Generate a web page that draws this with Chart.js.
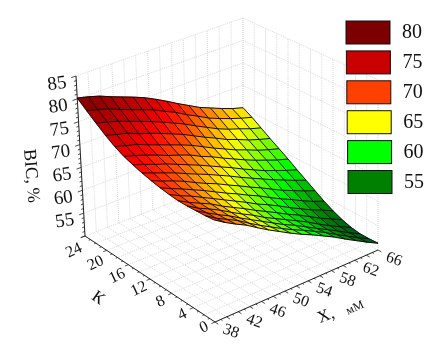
<!DOCTYPE html>
<html><head><meta charset="utf-8">
<style>html,body{margin:0;padding:0;background:#fff}canvas{display:block}</style>
<script src="https://cdn.jsdelivr.net/npm/chart.js@4"></script>
</head><body><canvas id="c" width="431" height="363"></canvas>
<script>
const xValues=[38,39.87,41.73,43.6,45.47,47.33,49.2,51.07,52.93,54.8,56.67,58.53,60.4,62.27,64.13,66];
const kValues=[24,22.4,20.8,19.2,17.6,16,14.4,12.8,11.2,9.6,8,6.4,4.8,3.2,1.6,0];
const zRows=[
[80.2,79.6,78.9,77.9,77,76.1,75.1,73.9,72.6,71.2,69.9,68.6,67.6,66.6,65.7,65],
[78.5,77.9,77.2,76.2,75.3,74.4,73.5,72.3,71.2,69.8,68.6,67.3,66.3,65.4,64.6,63.9],
[76.9,76.3,75.6,74.7,73.8,72.9,71.9,70.8,69.7,68.4,67.2,66,65,64.2,63.3,62.6],
[75.4,74.7,74.1,73.1,72.3,71.4,70.4,69.4,68.2,67,65.9,64.7,63.8,62.8,62,61.3],
[74.1,73.4,72.8,71.8,70.9,70,69.1,68.1,66.9,65.7,64.6,63.5,62.6,61.6,60.8,60.1],
[73.1,72.4,71.6,70.7,69.7,68.9,68,66.8,65.8,64.6,63.5,62.4,61.4,60.5,59.6,58.9],
[72.4,71.6,70.7,69.9,68.9,67.9,66.9,65.8,64.7,63.6,62.4,61.3,60.2,59.3,58.4,57.6],
[71.8,70.9,70,69.1,68,67,66,64.9,63.8,62.6,61.5,60.4,59.3,58.3,57.3,56.4],
[71.3,70.3,69.4,68.4,67.2,66.1,65.1,63.9,62.8,61.6,60.5,59.3,58.1,57.1,56.1,55.2],
[70.9,69.8,68.8,67.7,66.6,65.4,64.2,63.1,61.9,60.8,59.5,58.3,57.2,56,54.9,54],
[70.6,69.4,68.4,67.2,66,64.8,63.6,62.4,61.1,60,58.8,57.5,56.3,55.1,54.1,53],
[70.4,69.1,68,66.9,65.5,64.3,63.1,61.8,60.6,59.4,58.1,57,55.7,54.4,53.3,52.2],
[70.4,69,67.9,66.7,65.3,64,62.8,61.4,60.2,59,57.8,56.6,55.2,53.9,52.7,51.6],
[70.5,69.1,67.8,66.6,65.2,63.9,62.6,61.3,60,58.9,57.6,56.3,55.1,53.8,52.5,51.3],
[70.6,69.1,67.9,66.7,65.2,63.8,62.5,61.2,60,58.9,57.7,56.5,55.1,53.8,52.5,51.3],
[70.8,69.3,68,66.8,65.3,63.9,62.6,61.3,60.1,59,57.8,56.6,55.2,53.9,52.6,51.4]
];
const xTicks=[38,42,46,50,54,58,62,66];
const kTicks=[24,20,16,12,8,4,0];
const zTicks=[85,80,75,70,65,60,55];
const legendLevels=[80,75,70,65,60,55];
const legendColors=['#7c0000','#c80000','#ff4000','#ffff00','#00ff00','#008000'];

/* box geometry: screen position of the eight box corners */
const XMIN=38,XMAX=66,KMIN=0,KMAX=24,ZMIN=50,ZMAX=85;
const floorC={a:[215,322],b:[378,250],c:[85,236],d:[243,175]};
const topC={a:[213,150],b:[378,80],c:[76,76],d:[243,18]};
function project(X,K,Z){
  const u=(X-XMIN)/(XMAX-XMIN),v=(K-KMIN)/(KMAX-KMIN),t=(Z-ZMIN)/(ZMAX-ZMIN);
  const bl=(o,i)=>(1-u)*(1-v)*o.a[i]+u*(1-v)*o.b[i]+(1-u)*v*o.c[i]+u*v*o.d[i];
  return {x:bl(floorC,0)*(1-t)+bl(topC,0)*t,y:bl(floorC,1)*(1-t)+bl(topC,1)*t};
}
/* colour ramp */
const ramp=[[50,[0,64,48]],[54,[0,128,0]],[58.5,[0,255,0]],[64,[255,255,0]],[69.5,[255,64,0]],[72,[255,0,0]],[75,[200,0,0]],[80,[124,0,0]],[85,[90,0,0]]];
function colorOf(z){
  for(let i=0;i<ramp.length-1;i++){
    if(z<=ramp[i+1][0]){
      const f=Math.max(0,(z-ramp[i][0])/(ramp[i+1][0]-ramp[i][0]));
      const c=ramp[i][1].map((a,k)=>Math.round(a+(ramp[i+1][1][k]-a)*f));
      return `rgb(${c[0]},${c[1]},${c[2]})`;
    }
  }
  return 'rgb(90,0,0)';
}
const sets=[];
function add(points,opts){sets.push(Object.assign({type:'scatter',data:points,showLine:true,pointRadius:0,fill:false,borderWidth:1,tension:0},opts));}
const GRID='#d8d8d8',DASH=[1,1];
function gridLine(a,b){add([a,b],{borderColor:GRID,borderWidth:1,borderDash:DASH});}
/* walls and floor */
const wallX=[];for(let x=XMIN;x<=XMAX;x+=2)wallX.push(x);
const wallK=[];for(let k=KMIN;k<=KMAX;k+=2)wallK.push(k);
wallX.forEach(x=>{gridLine(project(x,KMAX,ZMIN),project(x,KMAX,ZMAX));gridLine(project(x,KMIN,ZMIN),project(x,KMAX,ZMIN));});
wallK.forEach(k=>{gridLine(project(XMAX,k,ZMIN),project(XMAX,k,ZMAX));gridLine(project(XMIN,k,ZMIN),project(XMAX,k,ZMIN));});
zTicks.forEach(z=>{gridLine(project(XMIN,KMAX,z),project(XMAX,KMAX,z));gridLine(project(XMAX,KMAX,z),project(XMAX,KMIN,z));});
/* axes */
const AXIS='#222';
add([project(XMIN,KMAX,ZMIN),project(XMIN,KMAX,ZMAX)],{borderColor:AXIS});
add([project(XMIN,KMAX,ZMIN),project(XMIN,KMIN,ZMIN)],{borderColor:AXIS});
add([project(XMIN,KMIN,ZMIN),project(XMAX,KMIN,ZMIN)],{borderColor:AXIS});
for(let z=ZMIN;z<=ZMAX;z+=1)add([project(XMIN,KMAX,z),project(XMIN-(z%5?0.4:0.8),KMAX,z)],{borderColor:AXIS,borderWidth:.8});
for(let k=KMIN;k<=KMAX;k+=1)add([project(XMIN,k,ZMIN),project(XMIN-(k%4?0.3:0.6),k,ZMIN)],{borderColor:AXIS,borderWidth:.8});
for(let x=XMIN;x<=XMAX;x+=1)add([project(x,KMIN,ZMIN),project(x,KMIN-(x%2?0.3:0.6),ZMIN)],{borderColor:AXIS,borderWidth:.8});
/* surface cells, far to near */
for(let i=xValues.length-2;i>=0;i--){
  for(let j=0;j<kValues.length-1;j++){
    const z=[zRows[j][i],zRows[j][i+1],zRows[j+1][i+1],zRows[j+1][i]];
    const p=[project(xValues[i],kValues[j],z[0]),project(xValues[i+1],kValues[j],z[1]),project(xValues[i+1],kValues[j+1],z[2]),project(xValues[i],kValues[j+1],z[3])];
    p.push(p[0]);
    const col=colorOf((z[0]+z[1]+z[2]+z[3])/4);
    add(p,{fill:'shape',backgroundColor:col,borderColor:col,borderWidth:.6});
  }
}
/* mesh lines */
const MESH='#0a0a0a';
kValues.forEach((k,j)=>add(xValues.map((x,i)=>project(x,k,zRows[j][i])),{borderColor:MESH,borderWidth:1}));
xValues.forEach((x,i)=>add(kValues.map((k,j)=>project(x,k,zRows[j][i])),{borderColor:'rgba(10,10,10,.9)',borderWidth:1}));
/* later datasets drawn on top */
sets.forEach((s,n)=>{s.order=sets.length-n;});

const SERIF='"Liberation Serif","Times New Roman",serif';
function txt(ctx,s,x,y,rot,size){
  ctx.save();ctx.translate(x,y);ctx.rotate(rot*Math.PI/180);
  ctx.font=size+'px '+SERIF;ctx.fillStyle='#111';ctx.textAlign='center';ctx.textBaseline='middle';
  ctx.fillText(s,0,0);ctx.restore();
}
const decor={id:'decor',afterDatasetsDraw(chart){
  const ctx=chart.ctx,sx=chart.scales.x,sy=chart.scales.y;
  const px=p=>({x:sx.getPixelForValue(p.x),y:sy.getPixelForValue(p.y)});
  zTicks.forEach(z=>{const p=px(project(XMIN,KMAX,z));txt(ctx,String(z),p.x-19,p.y+8,-8,19);});
  kTicks.forEach(k=>{const p=px(project(XMIN,k,ZMIN));txt(ctx,String(k),p.x-11,p.y+5.5+k*0.38,-25,16);});
  xTicks.forEach(x=>{const p=px(project(x,KMIN,ZMIN));txt(ctx,String(x),p.x+16,p.y+9.5,20,16);});
  txt(ctx,'ВІС, %',31,176,85,18);
  txt(ctx,'К',98,298,35,17);
  txt(ctx,'X,',326,316,-22,17);
  txt(ctx,'мМ',355,308,-25,12);
  legendLevels.forEach((l,n)=>{
    const y=21+n*29.9,x=346+n*0.4;
    ctx.fillStyle=legendColors[n];ctx.strokeStyle='#111';ctx.lineWidth=1;
    ctx.fillRect(x,y,44,23);ctx.strokeRect(x,y,44,23);
    txt(ctx,String(l),412+n*0.4,y+12,0,20);
  });
}};
new Chart(document.getElementById('c'),{
  type:'scatter',
  data:{datasets:sets},
  options:{responsive:false,animation:false,events:[],
    layout:{padding:0},
    plugins:{legend:{display:false},tooltip:{enabled:false},title:{display:false}},
    scales:{x:{type:'linear',min:0,max:431,display:false},y:{type:'linear',min:0,max:363,reverse:true,display:false}}
  },
  plugins:[decor]
});
</script></body></html>
